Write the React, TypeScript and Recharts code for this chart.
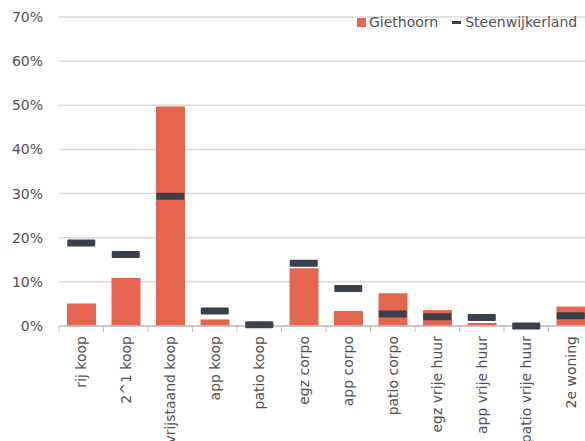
import React from "react";
import { ComposedChart, Bar, Scatter, XAxis, YAxis, CartesianGrid } from "recharts";

const categories = [
  "rij koop",
  "2^1 koop",
  "vrijstaand koop",
  "app koop",
  "patio koop",
  "egz corpo",
  "app corpo",
  "patio corpo",
  "egz vrije huur",
  "app vrije huur",
  "patio vrije huur",
  "2e woning",
];
const giethoorn = [5.1, 10.9, 49.7, 1.5, 0.4, 13.1, 3.4, 7.4, 3.6, 0.7, 0, 4.4];
const steenwijkerland = [18.8, 16.2, 29.4, 3.4, 0.3, 14.2, 8.5, 2.7, 2.1, 1.9, 0, 2.3];
const yTicks = [0, 10, 20, 30, 40, 50, 60, 70];

const data = categories.map((name, i) => ({
  name,
  giethoorn: giethoorn[i],
  steenwijkerland: steenwijkerland[i],
}));

const BAR = "#E6654F";
const MARK = "#3A404C";
const TEXT = "#505050";
const FONT = "'DejaVu Sans', Verdana, sans-serif";

const W = 600;
const LEFT = 59;
const RIGHT = 7;
const HALF = (W - LEFT - RIGHT) / categories.length / 2;

const CategoryTick = ({ x, y, payload }: any) => {
  const axisY = y - 10;
  return (
    <g>
      <line x1={x - HALF} x2={x - HALF} y1={axisY} y2={axisY + 6} stroke="#BFBFBF" strokeWidth={1} />
      <text
        x={x}
        y={y}
        transform={`rotate(-90, ${x}, ${y})`}
        textAnchor="end"
        dy="0.35em"
        fill={TEXT}
        fontSize={14}
        fontFamily={FONT}
      >
        {payload.value}
      </text>
    </g>
  );
};

const Marker = ({ cx, cy }: any) => (
  <rect x={cx - 14} y={cy - 3.5} width={28} height={7} rx={1} fill={MARK} />
);

export default function App() {
  return (
    <div style={{ position: "absolute", left: 0, top: 0, width: 585, height: 441, overflow: "hidden", background: "#fff" }}>
      <ComposedChart width={W} height={441} data={data} margin={{ top: 17, right: RIGHT, left: 0, bottom: 0 }}>
        <CartesianGrid vertical={false} stroke="#D9D9D9" strokeWidth={1.5} />
        <XAxis
          dataKey="name"
          interval={0}
          height={115}
          tickSize={6}
          tickMargin={4}
          tickLine={false}
          axisLine={{ stroke: "#BFBFBF", strokeWidth: 1.5 }}
          tick={<CategoryTick />}
        />
        <YAxis
          width={LEFT}
          domain={[0, 70]}
          ticks={yTicks}
          tickFormatter={(v: number) => `${v}%`}
          axisLine={false}
          tickLine={false}
          tickMargin={10}
          tick={{ fill: TEXT, fontSize: 14, fontFamily: FONT }}
        />
        <Bar dataKey="giethoorn" fill={BAR} barSize={29} isAnimationActive={false} />
        <Scatter dataKey="steenwijkerland" fill={MARK} shape={<Marker />} isAnimationActive={false} />
      </ComposedChart>
      <div
        style={{
          position: "absolute",
          left: 357,
          top: 14,
          display: "flex",
          alignItems: "center",
          fontFamily: FONT,
          fontSize: 14,
          lineHeight: "16px",
          color: TEXT,
          whiteSpace: "nowrap",
        }}
      >
        <span style={{ display: "inline-block", width: 9, height: 9, background: BAR, marginRight: 3 }} />
        <span>Giethoorn</span>
        <span style={{ display: "inline-block", width: 9, height: 3, background: MARK, marginLeft: 14, marginRight: 4 }} />
        <span>Steenwijkerland</span>
      </div>
    </div>
  );
}
